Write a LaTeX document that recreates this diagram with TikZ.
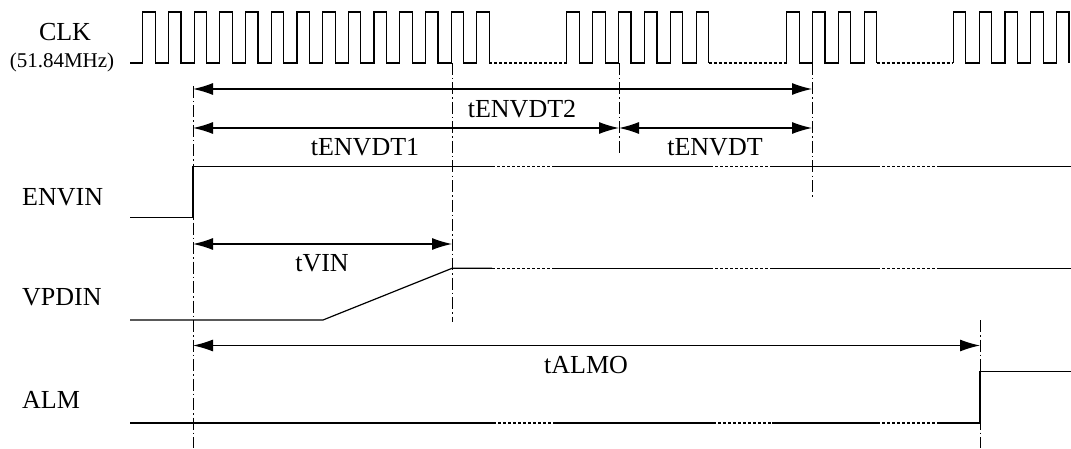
\documentclass[tikz,border=0pt]{standalone}
\usepackage{fontspec}
\setmainfont{Liberation Serif}
\usetikzlibrary{arrows.meta}
\tikzset{
  sig/.style={line width=1.2pt},
  gap/.style={line width=1.2pt, dash pattern=on 3pt off 2pt},
  marker/.style={line width=0.9pt, dash pattern=on 12pt off 3pt on 1.5pt off 3pt},
  dim/.style={line width=1.2pt, {Latex[length=20pt,width=12pt]}-{Latex[length=20pt,width=12pt]}},
  lbl/.style={font=\fontsize{26}{30}\selectfont, inner sep=0pt},
}
\begin{document}
\begin{tikzpicture}[x=1pt,y=1pt]
  \useasboundingbox (0,0) rectangle (1071,448);
  % signal names
  \node[lbl] (clk) at (65,416) {CLK};
  \node[lbl, font=\fontsize{21}{24}\selectfont] (freq) at (62,386) {(51.84MHz)};
  \node[lbl, anchor=west] (envin) at (22,251) {ENVIN};
  \node[lbl, anchor=west] (vpdin) at (22,151) {VPDIN};
  \node[lbl, anchor=west] (alm) at (22,48) {ALM};
  % clock bursts
  \draw[sig] (130,385) foreach \k in {0,...,13} { -- ({142.7+25.7*\k},385) -- ++(0,51) -- ++(12.5,0) -- ++(0,-51) };
  \draw[gap] (489.3,385) -- (566.7,385);
  \draw[sig] (566.7,385) foreach \k in {0,...,5} { -- ({566.7+25.9*\k},385) -- ++(0,51) -- ++(12.5,0) -- ++(0,-51) };
  \draw[gap] (708.7,385) -- (786.7,385);
  \draw[sig] (786.7,385) foreach \k in {0,...,3} { -- ({786.7+25.8*\k},385) -- ++(0,51) -- ++(12.5,0) -- ++(0,-51) };
  \draw[gap] (876.6,385) -- (953.3,385);
  \draw[sig] (953.3,385) foreach \k in {0,...,4} { -- ({953.3+25.8*\k},385) -- ++(0,51) -- ++(12.5,0) -- ++(0,-51) };
  % ENVIN, VPDIN, ALM
  \draw[sig] (130,230.5) -- (193,230.5) -- (193,281.3) -- (492,281.3);
  \draw[sig] (130,128) -- (323,128) -- (452,179.7) -- (492,179.7);
  \foreach \y in {281.3,179.7} {
    \draw[gap] (492,\y) -- (554,\y);
    \draw[sig] (554,\y) -- (710,\y);
    \draw[gap] (710,\y) -- (773,\y);
    \draw[sig] (773,\y) -- (877,\y);
    \draw[gap] (877,\y) -- (940,\y);
    \draw[sig] (940,\y) -- (1071,\y);
  }
  \draw[sig] (130,25) -- (493,25);
  \draw[gap] (493,25) -- (555,25);
  \draw[sig] (555,25) -- (713,25);
  \draw[gap] (713,25) -- (772,25);
  \draw[sig] (772,25) -- (877,25);
  \draw[gap] (877,25) -- (939,25);
  \draw[sig] (939,25) -- (980,25) -- (980,76.5) -- (1071,76.5);
  % markers
  \foreach \name/\x/\top/\bot in {m0/193/362/0, m1/452/385/126, m2/619/385/293, m3/812/385/249, m4/980/128/0}
    \draw[marker] (\x,\top) coordinate (\name) -- (\x,\bot);
  % timing arrows
  \coordinate (r1) at (0,359);
  \coordinate (r2) at (0,320);
  \coordinate (r3) at (0,204);
  \coordinate (r4) at (0,102.5);
  \draw[dim] (m0 |- r1) -- (m3 |- r1);
  \draw[dim] (m0 |- r2) -- (m2 |- r2);
  \draw[dim] (m2 |- r2) -- (m3 |- r2);
  \draw[dim] (m0 |- r3) -- (m1 |- r3);
  \draw[dim] (m0 |- r4) -- (m4 |- r4);
  \node[lbl] (tdt2) at (522,339) {tENVDT2};
  \node[lbl] (tdt1) at (365,301) {tENVDT1};
  \node[lbl] (tdt) at (715,301) {tENVDT};
  \node[lbl] (tvin) at (322,185) {tVIN};
  \node[lbl] (talmo) at (586,83) {tALMO};
\end{tikzpicture}
\end{document}
